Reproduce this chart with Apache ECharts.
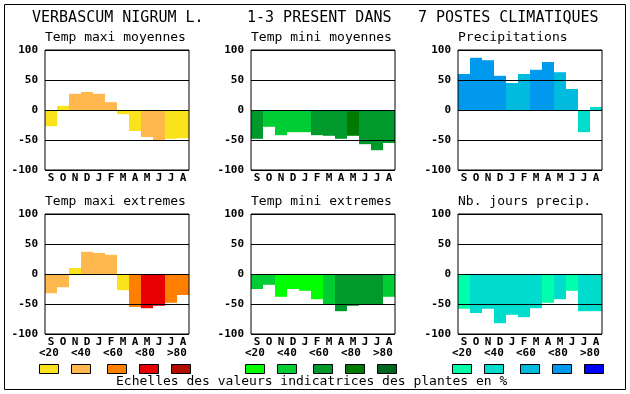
<!DOCTYPE html>
<html>
<head>
<meta charset="utf-8">
<script src="https://cdn.jsdelivr.net/npm/echarts@6/dist/echarts.min.js"></script>
<style>
html,body{margin:0;padding:0;background:#fff;}
#main{width:630px;height:394px;}
</style>
</head>
<body>
<div id="main"></div>
<script>
// ---- data ----
var months = ['S','O','N','D','J','F','M','A','M','J','J','A'];
var yTicks = [-100, -50, 0, 50, 100];
var titleParts = ['VERBASCUM NIGRUM L.', '1-3 PRESENT DANS', '7 POSTES CLIMATIQUES'];
var panelTitles = ['Temp maxi moyennes','Temp mini moyennes','Precipitations','Temp maxi extremes','Temp mini extremes','Nb. jours precip.'];
var classLabels = ['<20','<40','<60','<80','>80'];
var footer = 'Echelles des valeurs indicatrices des plantes en %';

var tmaxMoy    = [-27, 7, 27, 30, 27, 13, -7, -35, -45, -50, -48, -47];
var tmaxMoyCls = [0, 0, 1, 1, 1, 1, 0, 0, 1, 1, 0, 0];
var tminMoy    = [-48, -28, -42, -37, -37, -42, -43, -48, -43, -57, -67, -55];
var tminMoyCls = [2, 1, 1, 1, 1, 2, 2, 2, 3, 2, 2, 2];
var precip     = [60, 87, 83, 57, 45, 60, 67, 80, 63, 35, -37, 5];
var precipCls  = [3, 3, 3, 3, 2, 2, 3, 3, 2, 2, 1, 1];
var tmaxExt    = [-32, -22, 10, 37, 35, 32, -27, -55, -57, -53, -48, -35];
var tmaxExtCls = [1, 1, 0, 1, 1, 1, 0, 2, 3, 3, 2, 2];
var tminExt    = [-25, -18, -38, -25, -28, -42, -50, -62, -53, -50, -50, -38];
var tminExtCls = [1, 1, 0, 0, 0, 0, 1, 2, 2, 2, 2, 1];
var nbJours    = [-58, -65, -58, -82, -68, -72, -57, -48, -42, -28, -62, -62];
var nbJoursCls = [0, 1, 1, 1, 1, 1, 1, 0, 1, 0, 1, 1];

var palMaxi = ['#fae31c','#ffb84d','#ff8000','#e80000','#b00c00'];
var palMini = ['#00ff00','#00cc33','#00992b','#007a00','#00661f'];
var palPrec = ['#00ffaa','#00ddcc','#00bbdd','#0099ee','#0000ff'];

// ---- layout ----
var gridLefts = [45, 251, 458];
var gridTops = [50, 214];
var GW = 144, GH = 120;
var MONO = '"DejaVu Sans Mono", "Liberation Mono", monospace';

var panels = [
  {v: tmaxMoy, c: tmaxMoyCls, p: palMaxi},
  {v: tminMoy, c: tminMoyCls, p: palMini},
  {v: precip,  c: precipCls,  p: palPrec},
  {v: tmaxExt, c: tmaxExtCls, p: palMaxi},
  {v: tminExt, c: tminExtCls, p: palMini},
  {v: nbJours, c: nbJoursCls, p: palPrec}
];

var grids = [], xAxes = [], yAxes = [], series = [], graphics = [];

panels.forEach(function (pn, i) {
  var col = i % 3, row = Math.floor(i / 3);
  var left = gridLefts[col], top = gridTops[row];
  grids.push({left: left, top: top, width: GW, height: GH, show: true,
    backgroundColor: 'transparent', borderColor: '#000', borderWidth: 1, z: 10, containLabel: false});
  xAxes.push({type: 'category', gridIndex: i, data: months,
    axisLine: {show: false, onZero: false}, axisTick: {show: false},
    axisLabel: {interval: 0, margin: 3, color: '#000', fontFamily: MONO, fontWeight: 'bold', fontSize: 11},
    splitLine: {show: false}});
  yAxes.push({type: 'value', gridIndex: i, min: yTicks[0], max: yTicks[yTicks.length - 1], interval: 50, z: 5,
    axisLine: {show: false}, axisTick: {show: false},
    axisLabel: {margin: 7, color: '#000', fontFamily: MONO, fontWeight: 'bold', fontSize: 11},
    splitLine: {show: true, lineStyle: {color: '#000', width: 1}}});
  series.push({type: 'bar', xAxisIndex: i, yAxisIndex: i, barWidth: '100%', barCategoryGap: 0,
    animation: false, silent: true,
    data: pn.v.map(function (val, k) { return {value: val, itemStyle: {color: pn.p[pn.c[k]]}}; })});
  graphics.push({type: 'text', x: left, y: top - 12,
    style: {text: panelTitles[i], font: '13px ' + MONO, fill: '#000', verticalAlign: 'middle'}});
});

// title
var titleX = [32, 247, 418];
titleParts.forEach(function (t, k) {
  graphics.push({type: 'text', x: titleX[k], y: 18,
    style: {text: t, font: '15px ' + MONO, fill: '#000', verticalAlign: 'middle'}});
});

// class labels under bottom row and legend boxes
var boxOff = [0, 32, 68, 100, 132];
[palMaxi, palMini, palPrec].forEach(function (pal, g) {
  var base = gridLefts[g] - 6;
  classLabels.forEach(function (lab, k) {
    graphics.push({type: 'text', x: base + 32 * k, y: 353,
      style: {text: lab, font: 'bold 11px ' + MONO, fill: '#000', verticalAlign: 'middle'}});
    graphics.push({type: 'rect', shape: {x: base + boxOff[k] + 0.5, y: 364.5, width: 19, height: 9},
      style: {fill: pal[k], stroke: '#000', lineWidth: 1}});
  });
});

graphics.push({type: 'text', x: 116, y: 382,
  style: {text: footer, font: '13px ' + MONO, fill: '#000', verticalAlign: 'middle'}});
graphics.push({type: 'rect', shape: {x: 4.5, y: 4.5, width: 621, height: 385},
  style: {fill: null, stroke: '#000', lineWidth: 1}, z: 100});

var chart = echarts.init(document.getElementById('main'), null, {renderer: 'canvas'});
chart.setOption({
  animation: false,
  backgroundColor: '#fff',
  grid: grids, xAxis: xAxes, yAxis: yAxes, series: series,
  graphic: {elements: graphics}
});
</script>
</body>
</html>
